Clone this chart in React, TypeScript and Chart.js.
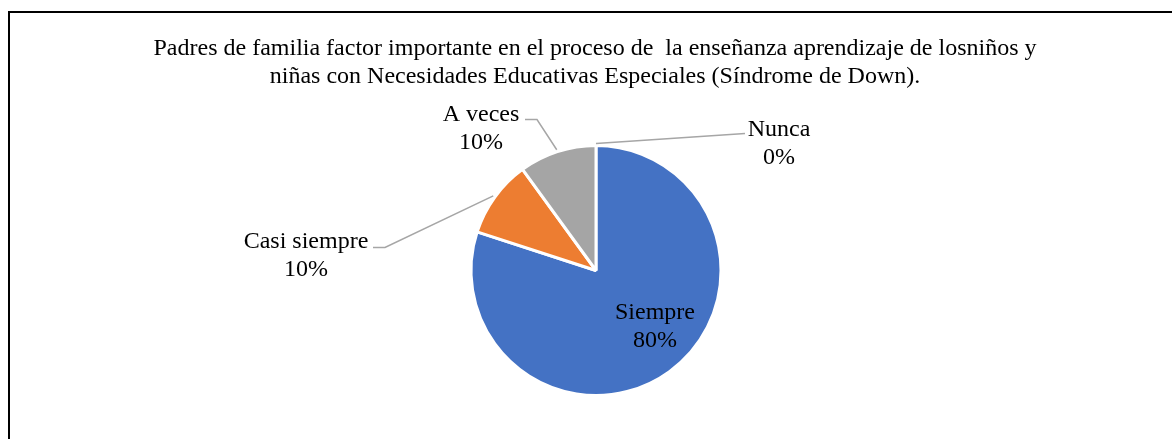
import React, { useEffect, useRef } from "react";
import { Chart, registerables } from "chart.js";

Chart.register(...registerables);

const titleLines = [
  "Padres de familia factor importante en el proceso de  la enseñanza aprendizaje de losniños y",
  "niñas con Necesidades Educativas Especiales (Síndrome de Down).",
];
const categories = ["Siempre", "Casi siempre", "A veces", "Nunca"];
const values = [80, 10, 10, 0];
const sliceColors = ["#4472C4", "#ED7D31", "#A5A5A5", "#FFC000"];

// label placement (style), relative to the pie centre
const labelStyle = [
  { tx: 59, ty: 48, inside: true },
  { tx: -290, ty: -23, end: [-223, -23], elbow: [-211, -23] },
  { tx: -115, ty: -150, end: [-71, -151], elbow: [-59, -151] },
  { tx: 183, ty: -135, end: [149, -137], elbow: [149, -137] },
];

const FONT = "24px 'Liberation Serif', 'Times New Roman', serif";

const decorPlugin = {
  id: "decor",
  afterDraw(chart: any) {
    const ctx = chart.ctx;
    ctx.save();
    // chart frame
    ctx.fillStyle = "#000";
    ctx.fillRect(8, 11, 2, 439);
    ctx.fillRect(8, 11, 1172, 2);

    // title
    ctx.font = FONT;
    ctx.textAlign = "center";
    ctx.textBaseline = "alphabetic";
    ctx.fillStyle = "#000";
    ctx.fillText(titleLines[0], 595, 55);
    ctx.fillText(titleLines[1], 595, 83);

    const meta = chart.getDatasetMeta(0);
    const total = values.reduce((a, b) => a + b, 0);
    meta.data.forEach((arc: any, i: number) => {
      const p = arc.getProps(["x", "y", "startAngle", "endAngle", "outerRadius"], true);
      const st = labelStyle[i];
      const cx = p.x;
      const cy = p.y;
      const mid = (p.startAngle + p.endAngle) / 2;
      const pct = Math.round((values[i] / total) * 100) + "%";
      if (!st.inside) {
        const r = p.outerRadius + 2;
        const ax = cx + Math.cos(mid) * r;
        const ay = cy + Math.sin(mid) * r;
        ctx.strokeStyle = "#A6A6A6";
        ctx.lineWidth = 1.5;
        ctx.beginPath();
        ctx.moveTo(cx + st.end![0], cy + st.end![1]);
        ctx.lineTo(cx + st.elbow![0], cy + st.elbow![1]);
        ctx.lineTo(ax, ay);
        ctx.stroke();
      }
      ctx.fillStyle = "#000";
      ctx.font = FONT;
      ctx.textAlign = "center";
      ctx.fillText(categories[i], cx + st.tx, cy + st.ty);
      ctx.fillText(pct, cx + st.tx, cy + st.ty + 28);
    });
    ctx.restore();
  },
};

export default function App() {
  const ref = useRef<HTMLCanvasElement>(null);
  useEffect(() => {
    const chart = new Chart(ref.current!, {
      type: "pie",
      data: {
        labels: categories,
        datasets: [
          {
            data: values,
            backgroundColor: sliceColors,
            borderColor: "#FFFFFF",
            borderWidth: 3,
          },
        ],
      },
      options: {
        responsive: false,
        animation: false,
        events: [],
        layout: { padding: { top: 144, bottom: 42, left: 20, right: 0 } },
        plugins: {
          legend: { display: false },
          tooltip: { enabled: false },
          title: { display: false },
        },
      },
      plugins: [decorPlugin],
    });
    return () => chart.destroy();
  }, []);
  return (
    <div style={{ position: "fixed", left: 0, top: 0, width: 1172, height: 439, background: "#fff" }}>
      <canvas ref={ref} width={1172} height={439} style={{ display: "block" }} />
    </div>
  );
}
